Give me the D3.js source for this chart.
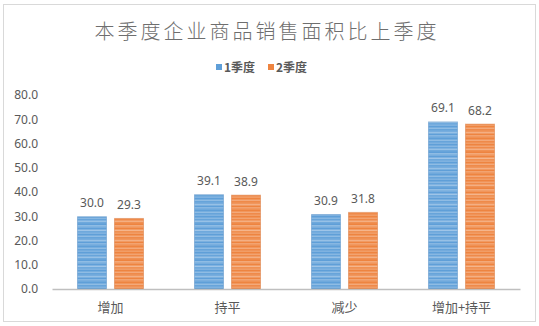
<!DOCTYPE html>
<html>
<head>
<meta charset="utf-8">
<script src="https://cdn.jsdelivr.net/npm/d3@7/dist/d3.min.js"></script>
<style>
  html, body { margin: 0; padding: 0; background: #fff; }
  svg { display: block; }
</style>
</head>
<body>
<svg id="chart" width="539" height="326"></svg>
<script>
// Chart data
const title = "本季度企业商品销售面积比上季度";
const categories = ["增加", "持平", "减少", "增加+持平"];
const seriesNames = ["1季度", "2季度"];
const q1Values = [30.0, 39.1, 30.9, 69.1];
const q2Values = [29.3, 38.9, 31.8, 68.2];
const yTicks = [0, 10, 20, 30, 40, 50, 60, 70, 80];

const colors = ["#5f9fd8", "#ee8440"];
const edgeColors = ["#4a86c0", "#d46d2c"];
const textColor = "#595959";
const cjk = "'Noto Sans CJK SC', 'Noto Sans', sans-serif";
const num = "'Noto Sans', 'Noto Sans CJK SC', sans-serif";

const svg = d3.select("#chart");
const W = 539, H = 326;
const margin = { left: 52, right: 19, top: 95, bottom: 37 };
const plotBottom = H - margin.bottom;

// Outer frame
svg.append("rect")
  .attr("x", 3.5).attr("y", 4.5)
  .attr("width", W - 7).attr("height", H - 9)
  .attr("fill", "#fff").attr("stroke", "#d9d9d9").attr("stroke-width", 1);

// Horizontal stripe textures for the bars
const defs = svg.append("defs");
const stripeRows = [0.0, 0.25, 0.05, 0.35, 0.1, 0.0, 0.3, 0.15, 0.0, 0.4, 0.1, 0.2,
                    0.0, 0.3, 0.05, 0.15, 0.35, 0.0, 0.25, 0.1, 0.0, 0.3, 0.05, 0.2];
colors.forEach((c, i) => {
  const p = defs.append("pattern")
    .attr("id", "stripe" + i)
    .attr("patternUnits", "userSpaceOnUse")
    .attr("width", 4).attr("height", stripeRows.length * 1.5);
  p.append("rect").attr("width", 4).attr("height", stripeRows.length * 1.5).attr("fill", c);
  stripeRows.forEach((a, k) => {
    if (a > 0) {
      p.append("rect")
        .attr("x", 0).attr("y", k * 1.5)
        .attr("width", 4).attr("height", 1.5)
        .attr("fill", "#fff").attr("opacity", a);
    }
  });
});

// Scales
const x0 = d3.scaleBand().domain(categories).range([margin.left, W - margin.right]).padding(0);
const x1 = d3.scaleBand().domain(seriesNames).range([25, 92]).paddingInner(0.19).paddingOuter(0);
const y = d3.scaleLinear().domain([0, 80]).range([plotBottom, margin.top]);

// Title
svg.append("text")
  .attr("x", 267).attr("y", 39)
  .attr("text-anchor", "middle")
  .attr("font-family", cjk)
  .attr("font-size", 20)
  .attr("font-weight", 300)
  .attr("letter-spacing", 3)
  .attr("fill", "#6e6e6e")
  .text(title);

// Legend
const legend = svg.append("g").attr("font-family", cjk).attr("font-size", 12).attr("fill", textColor);
const legendX = [216, 268];
seriesNames.forEach((s, i) => {
  legend.append("rect")
    .attr("x", legendX[i]).attr("y", 64)
    .attr("width", 6).attr("height", 6)
    .attr("fill", colors[i]);
  legend.append("text")
    .attr("x", legendX[i] + 8).attr("y", 71.5)
    .attr("font-weight", "bold")
    .text(s);
});

// Y axis labels
const yAxis = d3.axisLeft(y).tickValues(yTicks).tickFormat(d3.format(".1f")).tickSize(0).tickPadding(0);
const yG = svg.append("g").attr("transform", `translate(38,0)`).call(yAxis);
yG.select(".domain").remove();
yG.selectAll("text")
  .attr("font-family", num).attr("font-size", 12).attr("fill", textColor);

// Bars
const valuesBySeries = [q1Values, q2Values];
const groups = svg.append("g").selectAll("g")
  .data(categories)
  .join("g")
  .attr("transform", d => `translate(${x0(d)},0)`);

groups.selectAll("rect")
  .data((d, ci) => seriesNames.map((s, si) => ({ s, si, v: valuesBySeries[si][ci] })))
  .join("rect")
  .attr("x", d => x1(d.s) + 0.5)
  .attr("width", x1.bandwidth() - 1)
  .attr("y", d => y(d.v) + 0.5)
  .attr("height", d => y(0) - y(d.v) - 0.5)
  .attr("fill", d => `url(#stripe${d.si})`)
  .attr("stroke", d => edgeColors[d.si])
  .attr("stroke-opacity", 0.45)
  .attr("stroke-width", 1);

// Data labels
groups.selectAll("text.val")
  .data((d, ci) => seriesNames.map((s, si) => ({ s, si, v: valuesBySeries[si][ci] })))
  .join("text")
  .attr("class", "val")
  .attr("x", d => x1(d.s) + x1.bandwidth() / 2)
  .attr("y", d => y(d.v) - 9)
  .attr("text-anchor", "middle")
  .attr("font-family", num).attr("font-size", 12)
  .attr("fill", textColor)
  .text(d => d3.format(".1f")(d.v));

// X axis baseline and category labels
const xAxis = d3.axisBottom(x0).tickSize(0).tickPadding(11);
const xG = svg.append("g").attr("transform", `translate(0,${plotBottom})`).call(xAxis);
xG.select(".domain").attr("stroke", "#bfbfbf").attr("stroke-width", 1.5);
xG.selectAll("text")
  .attr("font-family", cjk).attr("font-size", 13).attr("fill", textColor)
  .attr("dy", "0.9em");
</script>
</body>
</html>
